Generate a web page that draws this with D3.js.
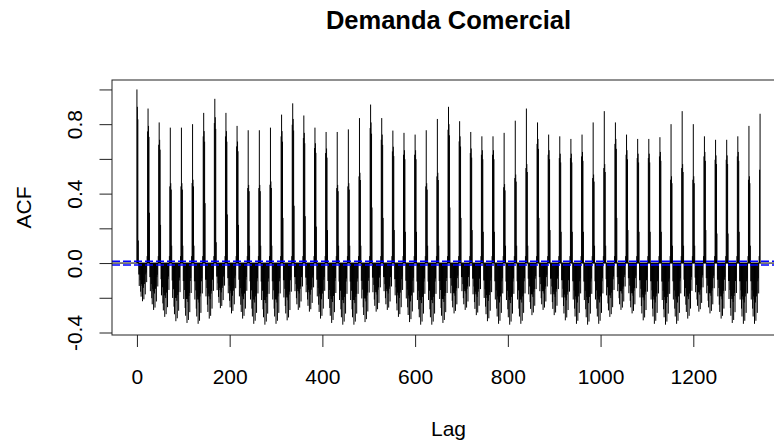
<!DOCTYPE html>
<html><head><meta charset="utf-8">
<script src="https://cdn.jsdelivr.net/npm/d3@7"></script>
<style>html,body{margin:0;padding:0;background:#fff;overflow:hidden}</style>
</head><body>
<svg id="chart" width="774" height="442"></svg>
<script>
// ---- data ----
const title = "Demanda Comercial";
const xLabel = "Lag";
const yLabel = "ACF";
const xTicks = [0, 200, 400, 600, 800, 1000, 1200];
const yTicks = [-0.4, -0.2, 0.0, 0.2, 0.4, 0.6, 0.8, 1.0];
const yTickLabels = ["-0.4", "", "0.0", "", "0.4", "", "0.8", ""];
const period = 24;      // lags between daily peaks
const maxLag = 1344;
// ACF at lag 24k (k = 0..56)
const peaks = [1.00,0.89,0.81,0.78,0.78,0.80,0.865,0.946,0.865,0.79,0.765,0.765,0.78,0.855,
  0.92,0.85,0.78,0.755,0.755,0.77,0.835,0.913,0.835,0.763,0.75,0.74,0.765,0.83,
  0.90,0.817,0.755,0.73,0.73,0.75,0.82,0.89,0.81,0.74,0.73,0.715,0.74,0.81,
  0.875,0.81,0.74,0.715,0.715,0.725,0.80,0.875,0.80,0.73,0.71,0.71,0.73,0.79,0.86];
// ACF at lag 24k+1 (thick part of each spike)
const shoulders = [0.90,0.79,0.71,0.46,0.46,0.48,0.76,0.84,0.76,0.70,0.45,0.45,0.47,0.76,
  0.83,0.75,0.69,0.66,0.45,0.46,0.52,0.81,0.74,0.67,0.65,0.65,0.46,0.52,
  0.80,0.73,0.66,0.65,0.65,0.455,0.51,0.57,0.715,0.65,0.63,0.63,0.64,0.51,
  0.57,0.715,0.65,0.63,0.63,0.64,0.50,0.57,0.50,0.64,0.62,0.62,0.64,0.50,0.56];
// ACF at lag 24k+3 (small step right of the spike)
const steps = [0.13,0.29,0.22,0.10,0.10,0.10,0.345,0.12,0.28,0.22,0.10,0.10,0.10,0.26,
  0.33,0.27,0.21,0.19,0.10,0.10,0.10,0.32,0.26,0.19,0.18,0.18,0.10,0.10,
  0.32,0.26,0.19,0.18,0.18,0.10,0.10,0.10,0.26,0.19,0.18,0.18,0.18,0.10,
  0.10,0.26,0.19,0.18,0.18,0.18,0.10,0.10,0.10,0.19,0.17,0.17,0.18,0.10,0.10];
// deepest ACF within each daily cycle (k = 0..55)
const troughs = [-0.22,-0.27,-0.31,-0.335,-0.345,-0.35,-0.32,
  -0.26,-0.29,-0.32,-0.35,-0.355,-0.35,-0.33,
  -0.27,-0.28,-0.32,-0.345,-0.355,-0.355,-0.34,
  -0.28,-0.27,-0.31,-0.34,-0.355,-0.355,-0.345,
  -0.29,-0.27,-0.30,-0.335,-0.35,-0.355,-0.35,
  -0.30,-0.27,-0.30,-0.33,-0.35,-0.355,-0.35,
  -0.31,-0.27,-0.29,-0.33,-0.35,-0.355,-0.35,
  -0.32,-0.28,-0.29,-0.32,-0.345,-0.35,-0.35];
// shape of the negative part of a cycle, lags 24k+4 .. 24k+20, as share of the trough
const troughShape = [0.3,0.6,0.3,0.45,0.75,0.88,0.55,0.6,1.0,0.6,0.65,0.95,0.55,0.5,0.82,0.3,0.25];
const ciLevel = 0.011;

// ---- assemble lag series from the read values ----
const acf = new Array(maxLag + 1).fill(0);
function put(l, v){ if (l >= 0 && l <= maxLag) acf[l] = v; }
for (let k = 0; k < peaks.length; k++) {
  const b = k * period;
  if (k > 0) {
    put(b - 3, troughs[k - 1] * 0.5);
    put(b - 2, 0.04);
    put(b - 1, shoulders[k] * 0.96);
  }
  put(b, peaks[k]);
  if (k < troughs.length) {
    put(b + 1, shoulders[k]);
    put(b + 2, shoulders[k] * 0.92);
    put(b + 3, steps[k]);
    troughShape.forEach((m, i) => put(b + 4 + i, troughs[k] * m));
  }
}
const lags = d3.range(0, maxLag + 1);

// ---- drawing ----
const svg = d3.select("#chart");
const pLeft = 112, pRight = 785, pTop = 80, pBottom = 335;
const x = d3.scaleLinear().domain([-53.76, 1397.76]).range([pLeft, pRight]);
const y = d3.scaleLinear().domain([-0.4144, 1.0544]).range([pBottom, pTop]);
const font = "'Liberation Sans', Arial, sans-serif";

// spikes
svg.append("g").selectAll("line").data(lags).join("line")
  .attr("x1", d => x(d)).attr("x2", d => x(d))
  .attr("y1", y(0)).attr("y2", d => y(acf[d]))
  .attr("stroke", "#000").attr("stroke-width", 1);

// zero line
svg.append("line").attr("x1", pLeft).attr("x2", pRight)
  .attr("y1", y(0)).attr("y2", y(0)).attr("stroke", "#000").attr("stroke-width", 1);
// confidence bounds
[ciLevel, -ciLevel].forEach(c => {
  svg.append("line").attr("x1", pLeft).attr("x2", pRight)
    .attr("y1", y(c)).attr("y2", y(c))
    .attr("stroke", "#0000ff").attr("stroke-width", 1.5)
    .attr("stroke-dasharray", "8,3");
});

// box
svg.append("rect").attr("x", pLeft).attr("y", pTop)
  .attr("width", pRight - pLeft).attr("height", pBottom - pTop)
  .attr("fill", "none").attr("stroke", "#222").attr("stroke-width", 1);

// x axis
const xa = svg.append("g").attr("transform", `translate(0,${pBottom})`)
  .call(d3.axisBottom(x).tickValues(xTicks).tickSize(12).tickFormat(d3.format("d")));
xa.select(".domain").remove();
xa.selectAll("line").attr("stroke", "#222");
xa.selectAll("text").attr("font-family", font).attr("font-size", 21).attr("fill", "#000")
  .attr("dy", null).attr("y", 49);

// y axis
const ya = svg.append("g").attr("transform", `translate(${pLeft},0)`)
  .call(d3.axisLeft(y).tickValues(yTicks).tickSize(12.5).tickFormat((d, i) => yTickLabels[i]));
ya.select(".domain").remove();
ya.selectAll("line").attr("stroke", "#222");
ya.selectAll("text").attr("font-family", font).attr("font-size", 21).attr("fill", "#000")
  .attr("x", null).attr("dy", null).attr("text-anchor", "middle")
  .attr("transform", "translate(-30,0) rotate(-90)").attr("y", 0);

// titles
svg.append("text").attr("x", (pLeft + pRight) / 2).attr("y", 29)
  .attr("text-anchor", "middle").attr("font-family", font).attr("font-weight", "bold")
  .attr("font-size", 25.5).text(title);
svg.append("text").attr("x", (pLeft + pRight) / 2).attr("y", 436)
  .attr("text-anchor", "middle").attr("font-family", font).attr("font-size", 21).text(xLabel);
svg.append("text").attr("transform", `translate(31,${(pTop + pBottom) / 2}) rotate(-90)`)
  .attr("text-anchor", "middle").attr("font-family", font).attr("font-size", 21).text(yLabel);
</script>
</body></html>
